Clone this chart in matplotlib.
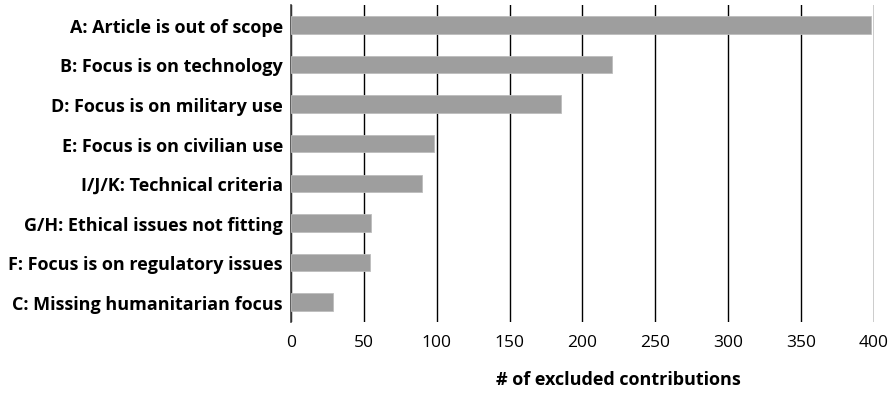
import matplotlib
matplotlib.use("Agg")
import matplotlib.pyplot as plt

# Data (top to bottom as drawn)
categories = [
    "A: Article is out of scope",
    "B: Focus is on technology",
    "D: Focus is on military use",
    "E: Focus is on civilian use",
    "I/J/K: Technical criteria",
    "G/H: Ethical issues not fitting",
    "F: Focus is on regulatory issues",
    "C: Missing humanitarian focus",
]
counts = [398, 220, 185, 98, 90, 55, 54, 29]
x_ticks = [0, 50, 100, 150, 200, 250, 300, 350, 400]

plt.rcParams["font.family"] = ["Open Sans", "DejaVu Sans"]

fig = plt.figure(figsize=(8.96, 4.02), dpi=100)
ax = fig.add_axes([0.325, 0.197, 0.65, 0.788])

y = list(range(len(categories)))
ax.barh(y, counts, height=0.44, color="#9e9e9e", edgecolor="#bdbdbd", linewidth=0.6, zorder=3)

ax.set_ylim(len(categories) - 0.5, -0.5)
ax.set_xlim(0, 400)
ax.set_xticks(x_ticks)
ax.set_xticklabels([str(t) for t in x_ticks], fontsize=12.5)
ax.set_yticks(y)
ax.set_yticklabels(categories, fontsize=13, fontweight="bold")

# Vertical gridlines
ax.grid(axis="x", color="black", linewidth=1.0, zorder=0)
ax.tick_params(axis="y", length=0, pad=6)
ax.tick_params(axis="x", length=0, pad=9)

for side in ["top", "right", "bottom"]:
    ax.spines[side].set_visible(False)
ax.spines["left"].set_color("#404040")
ax.spines["left"].set_linewidth(1.2)

ax.set_xlabel("# of excluded contributions", fontsize=13, fontweight="bold", labelpad=14, x=0.561)

fig.savefig("out.png", dpi=100)
